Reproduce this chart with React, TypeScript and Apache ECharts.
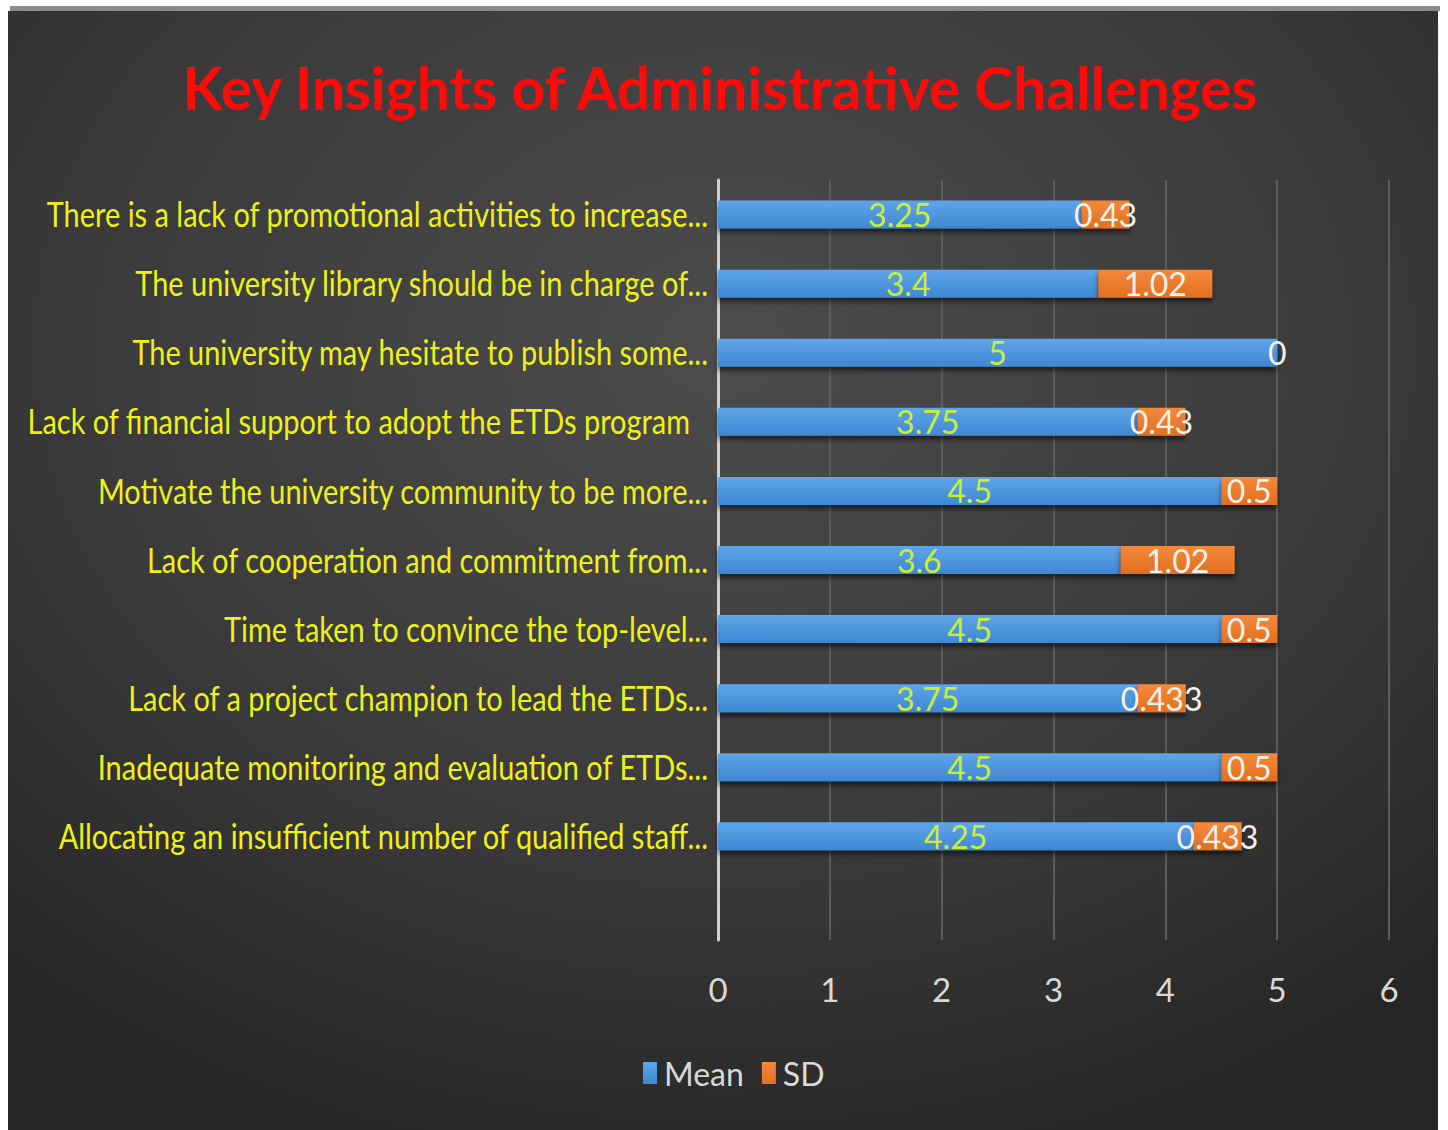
import React, { useEffect, useRef } from "react";
import * as echarts from "echarts";

const categories = [
  "There is a lack of promotional activities to increase...",
  "The university library should be in charge of...",
  "The university may hesitate to publish some...",
  "Lack of financial support to adopt the ETDs program",
  "Motivate the university community to be more...",
  "Lack of cooperation and commitment from...",
  "Time taken to convince the top-level...",
  "Lack of a project champion to lead the ETDs...",
  "Inadequate monitoring and evaluation of ETDs...",
  "Allocating an insufficient number of qualified staff...",
  "",
];
const meanValues = [3.25, 3.4, 5, 3.75, 4.5, 3.6, 4.5, 3.75, 4.5, 4.25, null];
const sdValues = [0.43, 1.02, 0, 0.43, 0.5, 1.02, 0.5, 0.433, 0.5, 0.433, null];
const xTicks = [0, 1, 2, 3, 4, 5, 6];
const titleText = "Key Insights of Administrative Challenges";
const seriesNames = ["Mean", "SD"];

const FONT = "Lato";
const LABEL_FONT_SIZE = 35;
const TITLE_FONT_SIZE = 60;

function measure(text: string, font: string): number {
  const c = document.createElement("canvas");
  const ctx = c.getContext("2d")!;
  ctx.font = font;
  return ctx.measureText(text).width;
}

export default function App() {
  const ref = useRef<HTMLDivElement>(null);
  useEffect(() => {
    if (!ref.current) return;
    document.body.style.margin = "0";
    const chart = echarts.init(ref.current, null, { renderer: "svg" });

    const titleFont = `bold ${TITLE_FONT_SIZE}px ${FONT}`;
    const titleScale = 1080 / measure(titleText, titleFont);
    const labelFont = `${LABEL_FONT_SIZE}px ${FONT}`;
    const labelScale = 662 / measure(categories[0], labelFont);

    chart.setOption({
      animation: false,
      backgroundColor: "#ffffff",
      graphic: [
        {
          id: "topline",
          type: "rect",
          z: -10,
          silent: true,
          shape: { x: 10, y: 6, width: 1430, height: 5 },
          style: { fill: "#8a8a8a" },
        },
        {
          id: "bg",
          type: "rect",
          z: -10,
          silent: true,
          shape: { x: 8, y: 11, width: 1430, height: 1119 },
          style: {
            fill: new echarts.graphic.RadialGradient(0.5, 0.3, 0.75, [
              { offset: 0, color: "#4c4c4c" },
              { offset: 0.6, color: "#3a3a3a" },
              { offset: 1, color: "#262626" },
            ]),
          },
        },
        {
          id: "title",
          type: "text",
          x: 720,
          y: 87,
          scaleX: titleScale,
          z: 10,
          style: {
            text: titleText,
            font: titleFont,
            fill: "#ff0a0a",
            textAlign: "center",
            textVerticalAlign: "middle",
            shadowColor: "rgba(0,0,0,0.9)",
            shadowBlur: 6,
            shadowOffsetX: 2,
            shadowOffsetY: 6,
          },
        },
      ],
      legend: {
        data: seriesNames,
        left: 638,
        top: 1052,
        itemWidth: 14,
        itemHeight: 22,
        itemGap: 18,
        icon: "rect",
        textStyle: { color: "#d9d9d9", fontSize: 32, fontFamily: FONT, padding: [0, 0, 0, 2] },
      },
      grid: { left: 718, right: 59, top: 180, bottom: 190, containLabel: false, outerBoundsMode: "none" },
      xAxis: {
        type: "value",
        min: xTicks[0],
        max: xTicks[xTicks.length - 1],
        interval: 1,
        axisLine: { show: false },
        axisTick: { show: false },
        splitLine: { lineStyle: { color: "#5c5c5c", width: 2 } },
        axisLabel: {
          color: "#d9d9d9",
          fontSize: 33,
          fontFamily: FONT,
          margin: 32,
        },
      },
      yAxis: {
        type: "category",
        inverse: true,
        data: categories,
        axisLine: { show: true, lineStyle: { color: "#d0d0d0", width: 3 } },
        axisTick: { show: false },
        splitLine: { show: false },
        axisLabel: { show: false },
      },
      series: [
        {
          name: seriesNames[0],
          type: "bar",
          stack: "total",
          barWidth: 28,
          data: meanValues,
          itemStyle: {
            color: new echarts.graphic.LinearGradient(0, 0, 0, 1, [
              { offset: 0, color: "#5fa5ea" },
              { offset: 1, color: "#3f87d2" },
            ]),
            shadowColor: "rgba(0,0,0,0.55)",
            shadowBlur: 5,
            shadowOffsetY: 4,
          },
          label: {
            show: true,
            position: "inside",
            color: "#c8ee3a",
            fontSize: 32,
            fontFamily: FONT,
          },
        },
        {
          name: seriesNames[1],
          type: "bar",
          stack: "total",
          barWidth: 28,
          data: sdValues,
          itemStyle: {
            color: new echarts.graphic.LinearGradient(0, 0, 0, 1, [
              { offset: 0, color: "#f5893c" },
              { offset: 1, color: "#e0701f" },
            ]),
            shadowColor: "rgba(0,0,0,0.55)",
            shadowBlur: 5,
            shadowOffsetY: 4,
          },
          label: {
            show: true,
            position: "inside",
            color: "#f6f2ea",
            fontSize: 32,
            fontFamily: FONT,
          },
        },
      ],
    });

    // Category labels, placed through the axes' own scales, drawn narrow like the reference font.
    const axisX = chart.convertToPixel({ xAxisIndex: 0 }, 0) as number;
    const labelGraphics = categories
      .map((name, i) => {
        if (!name) return null;
        const y = chart.convertToPixel({ yAxisIndex: 0 }, name) as number;
        const pad = name === "Lack of financial support to adopt the ETDs program" ? 28 : 10;
        return {
          id: "cat" + i,
          type: "text",
          x: axisX - pad,
          y: y - 1,
          scaleX: labelScale,
          style: {
            text: name,
            font: labelFont,
            fill: "#eef01c",
            textAlign: "right",
            textVerticalAlign: "middle",
          },
        };
      })
      .filter(Boolean);
    chart.setOption({ graphic: labelGraphics });

    return () => chart.dispose();
  }, []);
  return (
    <div
      ref={ref}
      style={{ position: "absolute", left: 0, top: 0, width: 1448, height: 1130 }}
    />
  );
}
